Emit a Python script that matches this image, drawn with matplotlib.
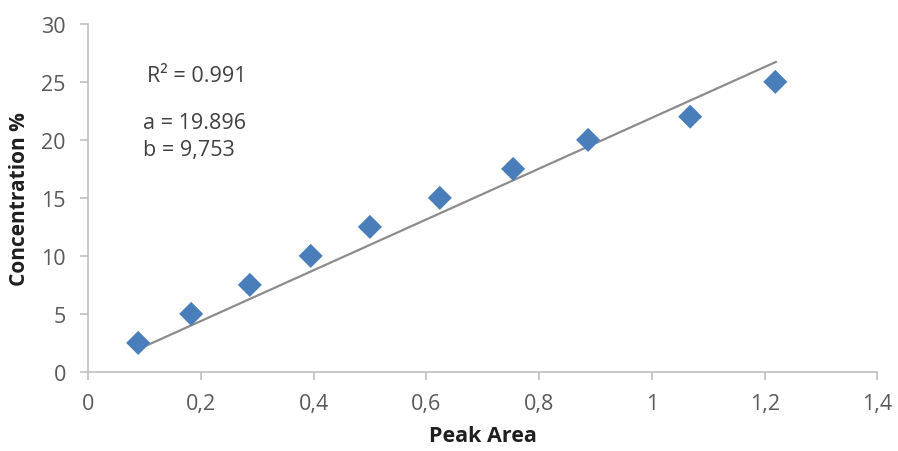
import matplotlib
matplotlib.use("Agg")
import matplotlib.pyplot as plt
import numpy as np

# data
peak_area = [0.089, 0.183, 0.287, 0.395, 0.500, 0.624, 0.754, 0.887, 1.068, 1.219]
concentration = [2.5, 5, 7.5, 10, 12.5, 15, 17.5, 20, 22, 25]

# trendline as drawn
trend_x = [0.10, 1.22]
trend_slope = 21.9
trend_intercept = 0.0

x_ticks = [0, 0.2, 0.4, 0.6, 0.8, 1, 1.2, 1.4]
x_tick_labels = ["0", "0,2", "0,4", "0,6", "0,8", "1", "1,2", "1,4"]
y_ticks = [0, 5, 10, 15, 20, 25, 30]

plt.rcParams['font.family'] = ['Open Sans', 'DejaVu Sans']

fig = plt.figure(figsize=(8.98, 4.52), dpi=100)
ax = fig.add_axes([0.098, 0.175, 0.879, 0.770])

tx = np.array(trend_x)
ax.plot(tx, trend_slope * tx + trend_intercept, color='#8c8c8c', lw=1.6, zorder=2)
ax.scatter(peak_area, concentration, marker='D', s=150, color='#4a7ebb', zorder=3,
           edgecolors='none')

ax.set_xlim(0, 1.4)
ax.set_ylim(0, 30)
ax.set_xticks(x_ticks)
ax.set_xticklabels(x_tick_labels)
ax.set_yticks(y_ticks)

for s in ['top', 'right']:
    ax.spines[s].set_visible(False)
for s in ['left', 'bottom']:
    ax.spines[s].set_color('#bfbfbf')
    ax.spines[s].set_linewidth(1.2)
ax.tick_params(colors='#bfbfbf', labelcolor='#595959', labelsize=15.5, length=6, width=1.2)
ax.tick_params(axis='x', pad=9)
ax.tick_params(axis='y', pad=10)

ax.set_xlabel("Peak Area", fontsize=15.5, fontweight='bold', color='#1f1f1f', labelpad=8)
ax.set_ylabel("Concentration %", fontsize=15, fontweight='bold', color='#1f1f1f', labelpad=8)

ax.text(0.105, 25.1, "R² = 0.991", fontsize=15.5, color='#404040', va='baseline')
ax.text(0.098, 21.0, "a = 19.896", fontsize=15.5, color='#404040', va='baseline')
ax.text(0.098, 18.7, "b = 9,753", fontsize=15.5, color='#404040', va='baseline')

fig.savefig("out.png", dpi=100)
